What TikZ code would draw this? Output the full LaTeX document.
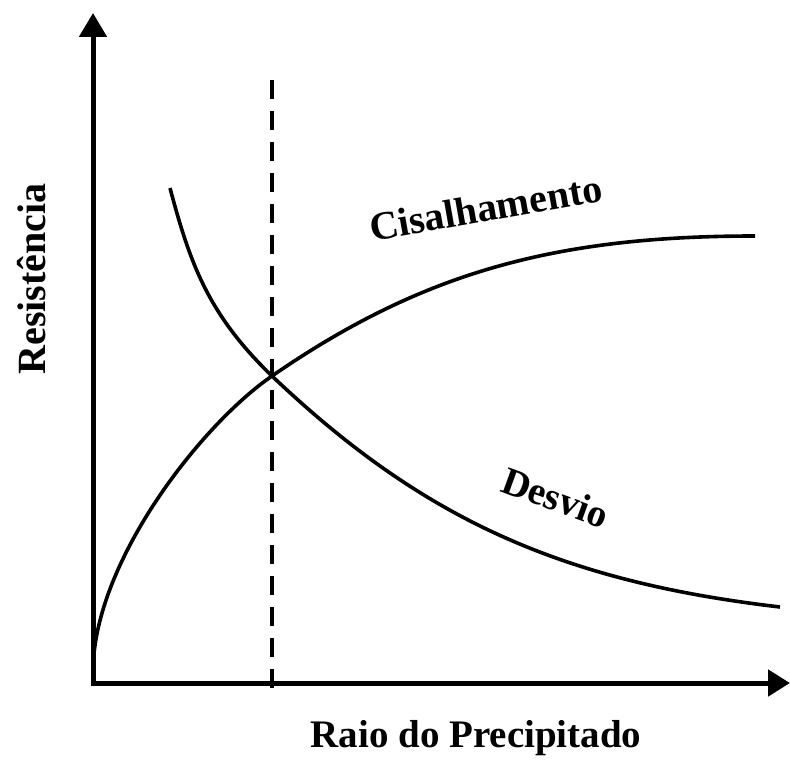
\documentclass[tikz,border=0pt]{standalone}
\usepackage{fontspec}
\setmainfont{Liberation Serif}
\usetikzlibrary{arrows.meta}
\tikzset{
  axisline/.style={line width=5pt, line join=miter, {Triangle[length=24pt,width=27pt]}-{Triangle[length=22pt,width=26pt]}},
  curveline/.style={line width=3.6pt},
  guideline/.style={line width=4pt, dash pattern=on 19pt off 12pt},
  lbl/.style={font=\bfseries, inner sep=0pt}
}
\begin{document}
\begin{tikzpicture}[x=1pt,y=-1pt]
\useasboundingbox (0,0) rectangle (790,762);
\coordinate (ytip) at (93,13);
\coordinate (O) at (93,683);
\coordinate (xtip) at (790,683);
\draw[axisline] (ytip) -- (O) -- (xtip);
\coordinate (dtop) at (272,80);
\coordinate (dbot) at (272,697);
\draw[guideline] (dtop) -- (dbot);
\coordinate (X) at (272,376);
\coordinate (c0) at (93,672);
\coordinate (c1) at (755,236);
\coordinate (d0) at (170,188);
\coordinate (d1) at (780,607);
\draw[curveline] (c0) .. controls (93,562) and (202,424) .. (X)
  .. controls (422,272.5) and (555,236) .. (c1);
\draw[curveline] (d0) .. controls (189.9,263) and (208,314.3) .. (X)
  .. controls (422,518.5) and (560,581.3) .. (d1);
\node[lbl, font=\fontsize{40}{42}\selectfont\bfseries, anchor=base, rotate=10] (cis) at (488,221) {Cisalhamento};
\node[lbl, font=\fontsize{39}{41}\selectfont\bfseries, anchor=base, rotate=-20] (des) at (551,510) {Desvio};
\node[lbl, font=\fontsize{40}{42}\selectfont\bfseries, anchor=base, rotate=90] (res) at (45,279) {Resistência};
\node[lbl, font=\fontsize{39}{41}\selectfont\bfseries, anchor=base] (rai) at (476,747) {Raio do Precipitado};
\end{tikzpicture}
\end{document}
